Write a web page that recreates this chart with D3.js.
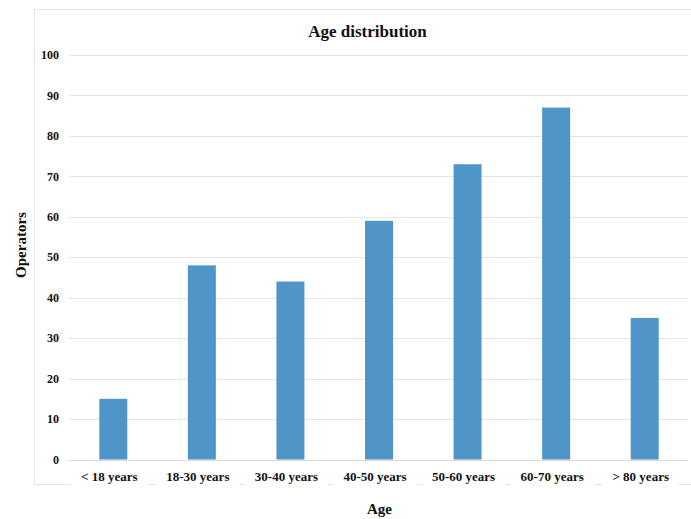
<!DOCTYPE html>
<html>
<head>
<meta charset="utf-8">
<script src="https://cdn.jsdelivr.net/npm/d3@7"></script>
<style>
  body { margin: 0; background: #fff; }
  text { font-family: "Liberation Serif", "Times New Roman", serif; font-weight: bold; fill: #111; }
</style>
</head>
<body>
<div id="canvas"></div>
<script>
  const categories = ['< 18 years', '18-30 years', '30-40 years', '40-50 years', '50-60 years', '60-70 years', '> 80 years'];
  const operators = [15, 48, 44, 59, 73, 87, 35];
  const yTicks = [0, 10, 20, 30, 40, 50, 60, 70, 80, 90, 100];

  const width = 691;
  const height = 519;

  const svg = d3.select('#canvas')
    .append('svg')
    .attr('width', width)
    .attr('height', height);

  // outer frame
  svg.append('rect')
    .attr('x', 34.5).attr('y', 9.5)
    .attr('width', 700).attr('height', 475)
    .attr('fill', 'none')
    .attr('stroke', '#e4e4e4');

  const x = d3.scaleBand()
    .domain(categories)
    .range([69, 689])
    .paddingInner(0.684)
    .paddingOuter(0.342);

  const y = d3.scaleLinear()
    .domain([0, 100])
    .range([459.5, 55]);

  // gridlines
  svg.append('g')
    .selectAll('line')
    .data(yTicks)
    .enter()
    .append('line')
    .attr('x1', 69)
    .attr('x2', 688)
    .attr('y1', (d) => Math.round(y(d)) + 0.5)
    .attr('y2', (d) => Math.round(y(d)) + 0.5)
    .attr('stroke', (d) => d === 0 ? '#d8d8d8' : '#e4e4e4');

  // y tick labels
  svg.append('g')
    .selectAll('text')
    .data(yTicks)
    .enter()
    .append('text')
    .attr('x', 59)
    .attr('y', (d) => y(d))
    .attr('dy', '0.35em')
    .attr('text-anchor', 'end')
    .style('font-size', '12px')
    .text((d) => d);

  // bars
  svg.append('g')
    .selectAll('rect')
    .data(operators)
    .enter()
    .append('rect')
    .attr('x', (d, i) => x(categories[i]))
    .attr('width', x.bandwidth())
    .attr('y', (d) => y(d))
    .attr('height', (d) => y(0) - y(d))
    .attr('fill', '#4f95c8');

  // x labels with white backing over the frame line
  const xLabels = svg.append('g')
    .selectAll('g')
    .data(categories)
    .enter()
    .append('g')
    .attr('transform', (d) => `translate(${x(d) + x.bandwidth() / 2 - 4},481)`);

  xLabels.append('text')
    .attr('text-anchor', 'middle')
    .style('font-size', '13px')
    .text((d) => d);

  xLabels.insert('rect', 'text')
    .each(function () {
      const bb = this.parentNode.querySelector('text').getBBox();
      d3.select(this)
        .attr('x', bb.x - 10)
        .attr('y', bb.y - 1)
        .attr('width', bb.width + 20)
        .attr('height', bb.height + 4)
        .attr('fill', '#fff');
    });

  // title
  svg.append('text')
    .attr('x', 367.5)
    .attr('y', 37)
    .attr('text-anchor', 'middle')
    .style('font-size', '17px')
    .text('Age distribution');

  // axis titles
  svg.append('text')
    .attr('x', 379.5)
    .attr('y', 514)
    .attr('text-anchor', 'middle')
    .style('font-size', '15px')
    .text('Age');

  svg.append('text')
    .attr('transform', 'translate(26,245) rotate(-90)')
    .attr('text-anchor', 'middle')
    .style('font-size', '15px')
    .text('Operators');
</script>
</body>
</html>
